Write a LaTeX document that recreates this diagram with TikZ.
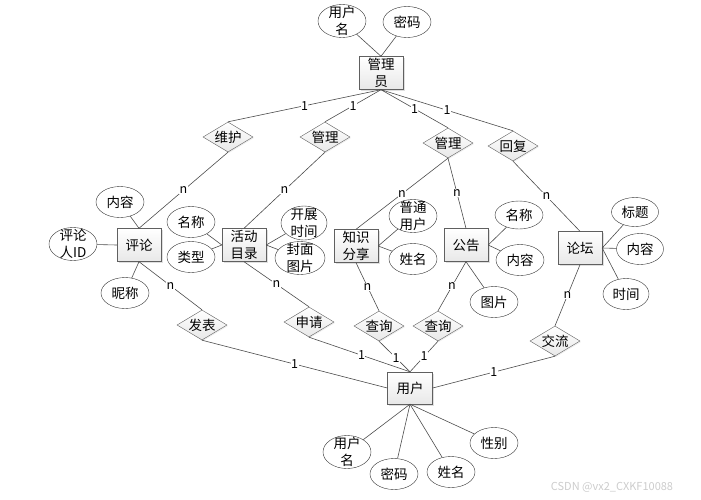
\documentclass[tikz,border=0pt]{standalone}
\usepackage{fontspec}
\setmainfont{Noto Sans CJK SC}
\usetikzlibrary{shapes.geometric, shadows, positioning}
\newcommand{\erfont}{\fontsize{13.5}{16.5}\selectfont}
\newcommand{\cardfont}{\fontsize{12.5}{14}\selectfont}
\tikzset{
  entitybox/.style={
    draw=gray!75!black, thin, top color=white, bottom color=gray!18,
    minimum width=44pt, minimum height=33pt, inner sep=1pt,
    align=center, font=\erfont,
    drop shadow={opacity=0.25, shadow xshift=1.5pt, shadow yshift=-1.5pt}
  },
  relbox/.style={
    diamond, draw=gray!75!black, thin, top color=white, bottom color=gray!18,
    aspect=1.67, minimum width=50pt, minimum height=30pt, inner sep=0pt,
    font=\erfont,
    drop shadow={opacity=0.15, shadow xshift=1pt, shadow yshift=-1pt}
  },
  attrbox/.style={
    ellipse, draw=black!80, thin, fill=white,
    minimum width=48pt, minimum height=31pt, inner sep=0pt,
    align=center, font=\erfont
  },
  attrtwo/.style={attrbox, inner ysep=-4pt, minimum height=33pt},
  erline/.style={draw=gray!60!black, line width=0.6pt},
  cardlabel/.style={pos=0.5, fill=white, inner sep=0.5pt, font=\cardfont},
}

\begin{document}
\begin{tikzpicture}[x=1pt, y=-1pt]
  \useasboundingbox (0,0) rectangle (701,499);

  % === Manager ===
  \node[entitybox] (mgr) at (381,73) {管理\\员};
  \node[attrtwo] (mgrname) at (342,21) {用户\\名};
  \node[attrbox] (mgrpwd) at (407,22) {密码};

  % === Upper relations ===
  \node[relbox] (keep) at (228,137) {维护};
  \node[relbox] (manage1) at (325,137) {管理};
  \node[relbox] (manage2) at (448,143) {管理};
  \node[relbox] (reply) at (513,146) {回复};

  % === Comment ===
  \node[entitybox] (comment) at (139,245) {评论};
  \node[attrbox] (cmtcontent) at (120,202) {内容};
  \node[attrtwo] (cmtid) at (73,244) {评论\\人ID};
  \node[attrbox] (cmtnick) at (125,293) {昵称};

  % === Activity catalog ===
  \node[entitybox] (activity) at (244,245) {活动\\目录};
  \node[attrbox] (actname) at (191,222) {名称};
  \node[attrbox] (acttype) at (191,257) {类型};
  \node[attrtwo, minimum width=46pt, minimum height=34pt] (acttime) at (304,223) {开展\\时间};
  \node[attrtwo, minimum width=50pt] (actcover) at (300,258) {封面\\图片};

  % === Knowledge sharing ===
  \node[entitybox] (share) at (356,246) {知识\\分享};
  \node[attrtwo] (shareuser) at (413,216) {普通\\用户};
  \node[attrbox] (sharename) at (413,259) {姓名};

  % === Notice ===
  \node[entitybox] (notice) at (466,245) {公告};
  \node[attrbox, minimum height=28pt] (ntcname) at (519,215) {名称};
  \node[attrbox] (ntccontent) at (520,260) {内容};
  \node[attrbox] (ntcpic) at (494,302) {图片};

  % === Forum ===
  \node[entitybox] (forum) at (580,248) {论坛};
  \node[attrbox, minimum width=47pt, minimum height=29pt] (frmtitle) at (635,212) {标题};
  \node[attrbox, minimum width=47pt] (frmcontent) at (640,249) {内容};
  \node[attrbox, minimum width=46pt] (frmtime) at (626,294) {时间};

  % === Lower relations ===
  \node[relbox] (publish) at (202,325) {发表};
  \node[relbox] (apply) at (309,322) {申请};
  \node[relbox] (query1) at (379,326) {查询};
  \node[relbox] (query2) at (438,326) {查询};
  \node[relbox] (talk) at (555,341) {交流};

  % === User ===
  \node[entitybox, minimum width=45pt, minimum height=32pt] (user) at (410,388) {用户};
  \node[attrtwo] (username) at (347,452) {用户\\名};
  \node[attrbox] (userpwd) at (394,474) {密码};
  \node[attrbox] (userxm) at (451,472) {姓名};
  \node[attrbox] (usersex) at (494,443) {性别};

  % === Attribute lines ===
  \draw[erline] (mgrname) -- (mgr.north);
  \draw[erline] (mgrpwd) -- (mgr.north);
  \draw[erline] (cmtcontent) -- (comment.north);
  \draw[erline] (cmtid) -- (comment.west);
  \draw[erline] (cmtnick) -- (comment.south);
  \draw[erline] (actname) -- (activity.west);
  \draw[erline] (acttype) -- (activity.west);
  \draw[erline] (acttime) -- (activity.east);
  \draw[erline] (actcover) -- (activity.east);
  \draw[erline] (shareuser) -- (share.east);
  \draw[erline] (sharename) -- (share.east);
  \draw[erline] (ntcname) -- (notice.east);
  \draw[erline] (ntccontent) -- (notice.east);
  \draw[erline] (ntcpic) -- (notice.south);
  \draw[erline] (frmtitle) -- (forum.east);
  \draw[erline] (frmcontent) -- (forum.east);
  \draw[erline] (frmtime) -- (forum.east);
  \draw[erline] (username) -- (user.south);
  \draw[erline] (userpwd) -- (user.south);
  \draw[erline] (userxm) -- (user.south);
  \draw[erline] (usersex) -- (user.south);

  % === Manager side ===
  \draw[erline] (mgr.south) -- node[cardlabel] {1} (keep.north);
  \draw[erline] (mgr.south) -- node[cardlabel] {1} (manage1.north);
  \draw[erline] (mgr.south) -- node[cardlabel] {1} (manage2.north);
  \draw[erline] (mgr.south) -- node[cardlabel] {1} (reply.north);
  \draw[erline] (keep.south) -- node[cardlabel] {n} (comment.north);
  \draw[erline] (manage1.south) -- node[cardlabel] {n} (activity.north);
  \draw[erline] (manage2.south) -- node[cardlabel] {n} (share.north);
  \draw[erline] (manage2.south) -- node[cardlabel] {n} (notice.north);
  \draw[erline] (reply.south) -- node[cardlabel] {n} (forum.north);

  % === User side ===
  \draw[erline] (comment.south) -- node[cardlabel] {n} (publish.north);
  \draw[erline] (activity.south) -- node[cardlabel] {n} (apply.north);
  \draw[erline] (share.south) -- node[cardlabel] {n} (query1.north);
  \draw[erline] (notice.south) -- node[cardlabel] {n} (query2.north);
  \draw[erline] (forum.south) -- node[cardlabel] {n} (talk.north);
  \draw[erline] (publish.south) -- node[cardlabel] {1} (user.west);
  \draw[erline] (apply.south) -- node[cardlabel, pos=0.52] {1} (user.north);
  \draw[erline] (query1.south) -- node[cardlabel, pos=0.55] {1} (user.north);
  \draw[erline] (query2.south) -- node[cardlabel] {1} (user.north);
  \draw[erline] (talk.south) -- node[cardlabel] {1} (user.east);

  % === Watermark ===
  \node[font=\fontsize{11}{12}\selectfont, text=gray!40] (mark) at (612,487) {CSDN @vx2\_CXKF10088};

\end{tikzpicture}
\end{document}
